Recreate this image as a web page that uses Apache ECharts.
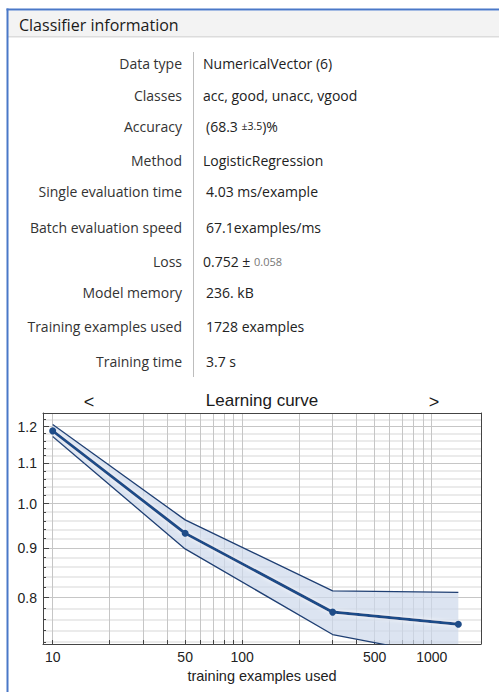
<!DOCTYPE html>
<html><head><meta charset="utf-8">
<script src="https://cdn.jsdelivr.net/npm/echarts@6/dist/echarts.min.js"></script>
<style>html,body{margin:0;padding:0;background:#fff}#c{width:499px;height:692px}</style>
</head><body><div id="c"></div>
<script>
// ---- data ----
const trainingExamples = [10, 50, 300, 1382];
const lossMean  = [1.188, 0.932, 0.773, 0.751];
const lossUpper = [1.206, 0.962, 0.813, 0.810];
const lossLower = [1.172, 0.898, 0.733, 0.692];

const xTickLabels = [10, 50, 100, 500, 1000];
const xGridValues = [10, 20, 30, 40, 50, 60, 70, 80, 90, 100, 200, 300, 400, 500, 600, 700, 800, 900, 1000];
const yTickLabels = [0.8, 0.9, 1.0, 1.1, 1.2];
const yMinorValues = [0.72, 0.74, 0.76, 0.78, 0.82, 0.84, 0.86, 0.88, 0.92, 0.94, 0.96, 0.98, 1.02, 1.04, 1.06, 1.08, 1.12, 1.14, 1.16, 1.18, 1.22];

const infoLabels = ['Data type', 'Classes', 'Accuracy', 'Method', 'Single evaluation time',
  'Batch evaluation speed', 'Loss', 'Model memory', 'Training examples used', 'Training time'];
const infoValues = ['NumericalVector (6)', 'acc, good, unacc, vgood', '{n|(68.3 }{s|±3.5}{n|)%}',
  'LogisticRegression', '4.03 ms/example', '67.1examples/ms', '{n|0.752 ± }{g|0.058}',
  '236. kB', '1728 examples', '3.7 s'];

const panelTitle = 'Classifier information';
const chartTitle = 'Learning curve';
const xName = 'training examples used';

// ---- layout ----
const rowY = [63, 95, 126, 160, 191, 227, 261, 292, 326, 361];
const valueX = [203, 203, 206, 203, 206, 206, 203, 206, 206, 206];
const X_MIN = 8.89, X_MAX = 1820, Y_MIN = 0.7167, Y_MAX = 1.2395;
const UI_FONT = '"Open Sans", "Noto Sans", sans-serif';
const AX_FONT = '"Liberation Sans", Arial, sans-serif';

const graphics = [
  { type: 'rect', shape: { x: 8, y: 11, width: 491, height: 26 }, style: { fill: '#f3f3f3' }, silent: true },
  { type: 'rect', shape: { x: 8, y: 36, width: 491, height: 1.5 }, style: { fill: '#dcdcdc' }, silent: true },
  { type: 'rect', shape: { x: 6.5, y: 8.5, width: 493, height: 2 }, style: { fill: '#4a78c8' }, silent: true },
  { type: 'rect', shape: { x: 6.5, y: 8.5, width: 2, height: 684 }, style: { fill: '#4a78c8' }, silent: true },
  { type: 'text', x: 19, y: 25, style: { text: panelTitle, font: '16px ' + UI_FONT, fill: '#1a1a1a', align: 'left', verticalAlign: 'middle' } },
  { type: 'line', shape: { x1: 193.5, y1: 52, x2: 193.5, y2: 377 }, style: { stroke: '#bdbdbd', lineWidth: 1 } },
  { type: 'text', x: 262, y: 400, style: { text: chartTitle, font: '17px ' + AX_FONT, fill: '#1a1a1a', align: 'center', verticalAlign: 'middle' } },
  { type: 'text', x: 89, y: 402, style: { text: '<', font: '18px ' + AX_FONT, fill: '#1a1a1a', align: 'center', verticalAlign: 'middle' } },
  { type: 'text', x: 434, y: 402, style: { text: '>', font: '18px ' + AX_FONT, fill: '#1a1a1a', align: 'center', verticalAlign: 'middle' } }
];
infoLabels.forEach((t, i) => {
  graphics.push({ type: 'text', x: 182, y: rowY[i], style: { text: t, font: '14px ' + UI_FONT, fill: '#333', align: 'right', verticalAlign: 'middle' } });
});
infoValues.forEach((t, i) => {
  graphics.push({ type: 'text', x: valueX[i], y: rowY[i], style: {
    text: t, font: '14px ' + UI_FONT, fill: '#222', align: 'left', verticalAlign: 'middle',
    rich: {
      n: { font: '14px ' + UI_FONT, fill: '#222' },
      s: { font: '10.5px ' + UI_FONT, fill: '#222' },
      g: { font: '11px ' + UI_FONT, fill: '#777' }
    }
  } });
});

const chart = echarts.init(document.getElementById('c'), null, { renderer: 'svg' });
const meanData = trainingExamples.map((x, i) => [x, lossMean[i]]);
const upperData = trainingExamples.map((x, i) => [x, lossUpper[i]]);
const lowerData = trainingExamples.map((x, i) => [x, lossLower[i]]);

chart.setOption({
  animation: false,
  backgroundColor: '#fff',
  graphic: graphics,
  grid: { left: 43, right: 18, top: 413, bottom: 48, containLabel: false },
  xAxis: [
    {
      type: 'log', logBase: 10, min: X_MIN, max: X_MAX, position: 'bottom',
      name: xName, nameLocation: 'middle', nameGap: 24,
      nameTextStyle: { fontFamily: AX_FONT, fontSize: 14.5, color: '#222' },
      axisLine: { show: true, lineStyle: { color: '#444', width: 1 } },
      axisTick: { show: true, inside: true, length: 4, customValues: xGridValues, lineStyle: { color: '#444' } },
      axisLabel: { customValues: xTickLabels, fontFamily: AX_FONT, fontSize: 14, color: '#222', margin: 6, formatter: v => String(Math.round(v)) },
      splitLine: { show: true, lineStyle: { color: '#c6c6c6', width: 1 } }
    },
    {
      type: 'log', logBase: 10, min: X_MIN, max: X_MAX, position: 'top',
      axisLine: { show: true, lineStyle: { color: '#444', width: 1 } },
      axisTick: { show: false }, axisLabel: { show: false }, splitLine: { show: false }
    }
  ],
  yAxis: [
    {
      type: 'log', logBase: 10, min: Y_MIN, max: Y_MAX, position: 'left',
      axisLine: { show: true, lineStyle: { color: '#444', width: 1 } },
      axisTick: { show: true, inside: true, length: 6, customValues: yTickLabels, lineStyle: { color: '#444' } },
      axisLabel: { customValues: yTickLabels, fontFamily: AX_FONT, fontSize: 14, color: '#222', margin: 6, formatter: v => v.toFixed(1) },
      splitLine: { show: true, lineStyle: { color: '#c6c6c6', width: 1 } }
    },
    {
      type: 'log', logBase: 10, min: Y_MIN, max: Y_MAX, position: 'left',
      axisLine: { show: false },
      axisTick: { show: true, inside: true, length: 3, customValues: yMinorValues, lineStyle: { color: '#444' } },
      axisLabel: { show: false },
      splitLine: { show: true, lineStyle: { color: '#e4e4e4', width: 1.5 } }
    },
    {
      type: 'log', logBase: 10, min: Y_MIN, max: Y_MAX, position: 'right',
      axisLine: { show: true, lineStyle: { color: '#444', width: 1 } },
      axisTick: { show: false }, axisLabel: { show: false }, splitLine: { show: false }
    }
  ],
  series: [
    {
      type: 'custom', clip: true, xAxisIndex: 0, yAxisIndex: 0, silent: true, z: 1,
      data: [meanData[0]],
      renderItem: function (params, api) {
        const pts = [];
        trainingExamples.forEach((x, i) => pts.push(api.coord([x, lossUpper[i]])));
        for (let i = trainingExamples.length - 1; i >= 0; i--) pts.push(api.coord([trainingExamples[i], lossLower[i]]));
        return { type: 'polygon', shape: { points: pts }, style: { fill: 'rgba(205,217,235,0.7)', stroke: 'none' } };
      }
    },
    {
      type: 'line', data: upperData, xAxisIndex: 0, yAxisIndex: 0, symbol: 'none', z: 2,
      lineStyle: { color: '#1f3f73', width: 1.3 }
    },
    {
      type: 'line', data: lowerData, xAxisIndex: 0, yAxisIndex: 0, symbol: 'none', z: 2, clip: true,
      lineStyle: { color: '#1f3f73', width: 1.3 }
    },
    {
      type: 'line', data: meanData, xAxisIndex: 0, yAxisIndex: 0, z: 3,
      symbol: 'circle', symbolSize: 7,
      itemStyle: { color: '#1f4c88' },
      lineStyle: { color: '#1f4c88', width: 3, shadowColor: 'rgba(255,255,255,0.95)', shadowBlur: 4 }
    }
  ]
});
</script></body></html>
